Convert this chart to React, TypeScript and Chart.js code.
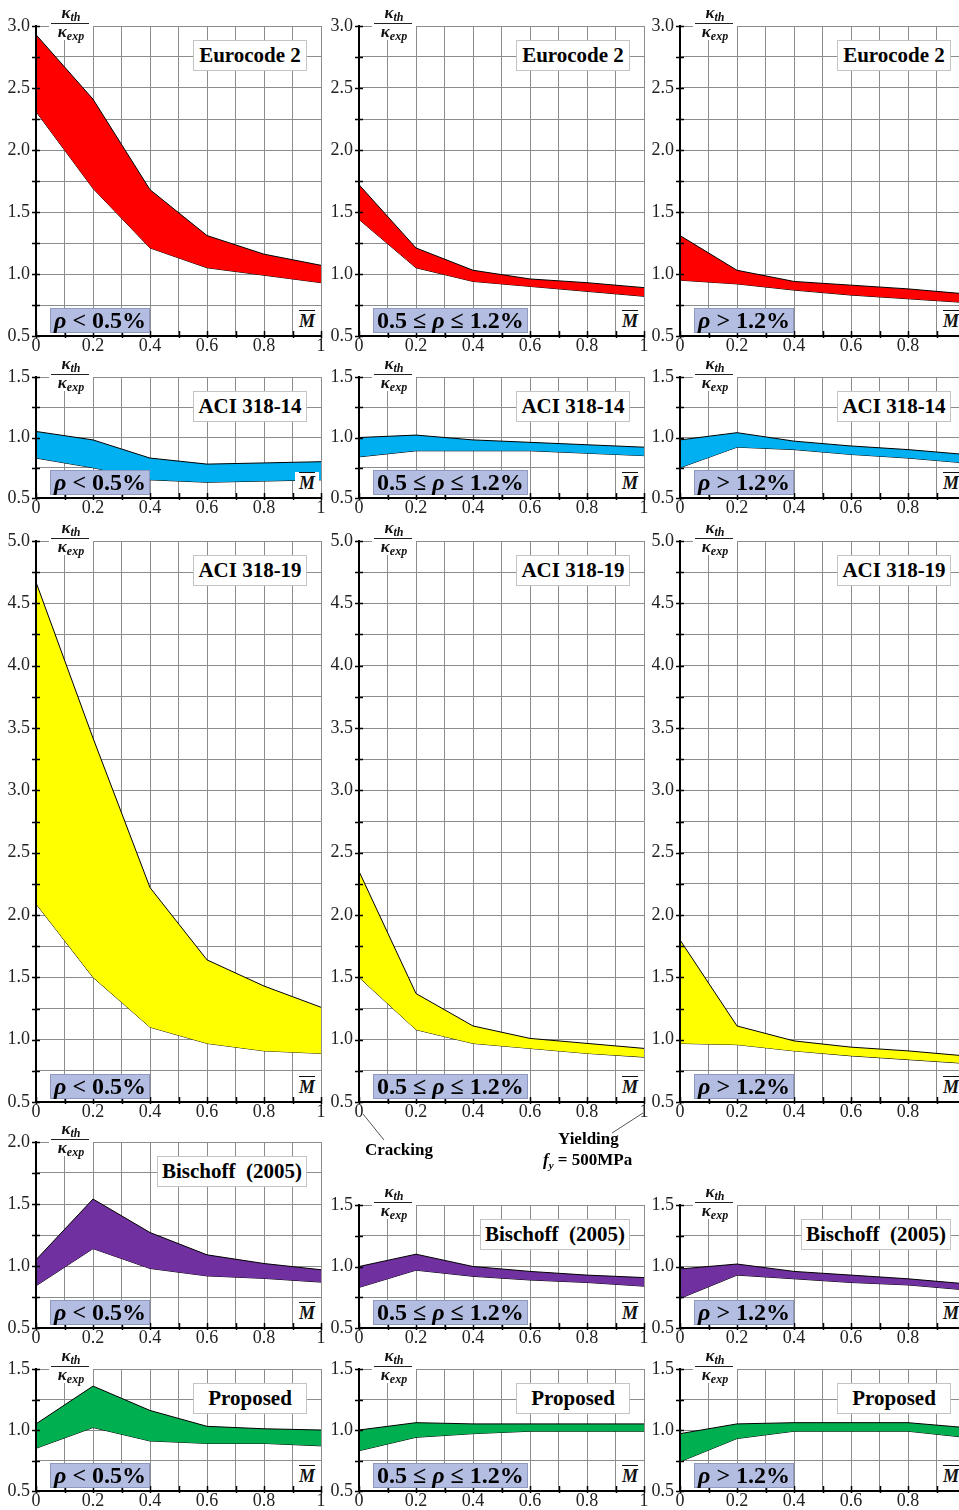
import React, { useEffect, useRef } from 'react';
import { Chart, registerables } from 'chart.js';

Chart.register(...registerables);

// ---------- data ----------
const M_POINTS = [0, 0.2, 0.4, 0.6, 0.8, 1.0];
const X_TICK_LABELS = ['0', '0.2', '0.4', '0.6', '0.8', '1'];
const RHO_LABELS = ['ρ < 0.5%', '0.5 ≤ ρ ≤ 1.2%', 'ρ > 1.2%'];
const TITLES = ['Eurocode 2', 'ACI 318-14', 'ACI 318-19', 'Bischoff  (2005)', 'Proposed'];

// Eurocode 2
const ec2UpperLow = [2.93, 2.41, 1.68, 1.31, 1.16, 1.07];
const ec2LowerLow = [2.31, 1.69, 1.21, 1.05, 0.99, 0.93];
const ec2UpperMid = [1.72, 1.21, 1.03, 0.96, 0.93, 0.89];
const ec2LowerMid = [1.44, 1.05, 0.94, 0.9, 0.86, 0.82];
const ec2UpperHigh = [1.31, 1.03, 0.94, 0.91, 0.88, 0.84];
const ec2LowerHigh = [0.95, 0.92, 0.87, 0.83, 0.8, 0.77];

// ACI 318-14
const aci14UpperLow = [1.05, 0.98, 0.83, 0.78, 0.79, 0.8];
const aci14LowerLow = [0.83, 0.75, 0.65, 0.63, 0.64, 0.65];
const aci14UpperMid = [1.0, 1.02, 0.98, 0.96, 0.94, 0.92];
const aci14LowerMid = [0.84, 0.89, 0.89, 0.89, 0.87, 0.85];
const aci14UpperHigh = [0.98, 1.04, 0.97, 0.93, 0.9, 0.86];
const aci14LowerHigh = [0.75, 0.92, 0.9, 0.86, 0.83, 0.79];

// ACI 318-19
const aci19UpperLow = [4.67, 3.42, 2.22, 1.64, 1.43, 1.26];
const aci19LowerLow = [2.09, 1.5, 1.1, 0.97, 0.91, 0.89];
const aci19UpperMid = [2.35, 1.37, 1.11, 1.01, 0.97, 0.93];
const aci19LowerMid = [1.5, 1.08, 0.97, 0.93, 0.89, 0.86];
const aci19UpperHigh = [1.8, 1.11, 0.99, 0.94, 0.91, 0.87];
const aci19LowerHigh = [0.97, 0.96, 0.91, 0.87, 0.84, 0.81];

// Bischoff (2005)
const bisUpperLow = [1.05, 1.54, 1.27, 1.09, 1.02, 0.97];
const bisLowerLow = [0.84, 1.14, 0.98, 0.92, 0.9, 0.87];
const bisUpperMid = [1.0, 1.1, 1.0, 0.96, 0.93, 0.91];
const bisLowerMid = [0.83, 0.97, 0.92, 0.89, 0.87, 0.84];
const bisUpperHigh = [0.98, 1.02, 0.96, 0.93, 0.9, 0.86];
const bisLowerHigh = [0.74, 0.93, 0.9, 0.87, 0.85, 0.81];

// Proposed
const propUpperLow = [1.05, 1.36, 1.16, 1.03, 1.01, 1.0];
const propLowerLow = [0.85, 1.02, 0.91, 0.89, 0.89, 0.87];
const propUpperMid = [1.0, 1.06, 1.05, 1.05, 1.05, 1.05];
const propLowerMid = [0.83, 0.94, 0.97, 0.99, 0.99, 0.99];
const propUpperHigh = [0.97, 1.05, 1.06, 1.06, 1.06, 1.02];
const propLowerHigh = [0.74, 0.93, 0.99, 0.99, 0.99, 0.94];

const Y_MIN = [0.5, 0.5, 0.5, 0.5, 0.5];
const Y_MAX = [
  [3.0, 3.0, 3.0],
  [1.5, 1.5, 1.5],
  [5.0, 5.0, 5.0],
  [2.0, 1.5, 1.5],
  [1.5, 1.5, 1.5],
];
const BAND_COLORS = ['#ff0000', '#00b0f0', '#ffff00', '#7030a0', '#00b050'];

// ---------- layout ----------
const SERIF = '"Liberation Serif", "Times New Roman", serif';
const COL_LEFT = [36, 359, 680];
const PLOT_W = 285;
const ROW_TOP = [
  [23, 23, 23],
  [374, 374, 374],
  [538, 538, 538],
  [1139, 1202, 1202],
  [1366, 1366, 1366],
];
const ROW_BOTTOM = [336, 498, 1102, 1328, 1491];
const PAD_L = 44;
const PAD_T = 12;
const PAD_R = 12;
const PAD_B = 24;
const GRID_COLOR = '#8c8c8c';

const UPPERS = [
  [ec2UpperLow, ec2UpperMid, ec2UpperHigh],
  [aci14UpperLow, aci14UpperMid, aci14UpperHigh],
  [aci19UpperLow, aci19UpperMid, aci19UpperHigh],
  [bisUpperLow, bisUpperMid, bisUpperHigh],
  [propUpperLow, propUpperMid, propUpperHigh],
];
const LOWERS = [
  [ec2LowerLow, ec2LowerMid, ec2LowerHigh],
  [aci14LowerLow, aci14LowerMid, aci14LowerHigh],
  [aci19LowerLow, aci19LowerMid, aci19LowerHigh],
  [bisLowerLow, bisLowerMid, bisLowerHigh],
  [propLowerLow, propLowerMid, propLowerHigh],
];

const axisPlugin = {
  id: 'blackAxes',
  afterDatasetsDraw(chart: any) {
    const { ctx, chartArea, scales } = chart;
    const { left, right, top, bottom } = chartArea;
    ctx.save();
    ctx.strokeStyle = '#000';
    ctx.lineWidth = 1.5;
    ctx.beginPath();
    scales.y.ticks.forEach((t: any) => {
      const py = Math.round(scales.y.getPixelForValue(t.value)) + 0.5;
      ctx.moveTo(left - 4, py);
      ctx.lineTo(left + 4, py);
    });
    scales.x.ticks.forEach((t: any) => {
      const px = Math.round(scales.x.getPixelForValue(t.value)) + 0.5;
      ctx.moveTo(px, bottom + 2);
      ctx.lineTo(px, bottom - 5);
    });
    ctx.stroke();
    ctx.lineWidth = 2;
    ctx.beginPath();
    ctx.moveTo(left, top - 1);
    ctx.lineTo(left, bottom);
    ctx.lineTo(right + 1, bottom);
    ctx.stroke();
    ctx.restore();
  },
};

function near(v: number, step: number) {
  return Math.abs(v / step - Math.round(v / step)) < 1e-6;
}

type PanelProps = { r: number; c: number };

function PanelChart({ r, c }: PanelProps) {
  const ref = useRef<HTMLCanvasElement>(null);
  const top = ROW_TOP[r][c];
  const bottom = ROW_BOTTOM[r];
  const h = bottom - top;
  const yMin = Y_MIN[r];
  const yMax = Y_MAX[r][c];
  const W = PLOT_W + PAD_L + PAD_R;
  const H = h + PAD_T + PAD_B;

  useEffect(() => {
    const upper = UPPERS[r][c];
    const lower = LOWERS[r][c];
    const xGrid: number[] = [];
    for (let i = 0; i <= 10; i++) xGrid.push(i / 10);
    const yGrid: number[] = [];
    for (let v = yMin; v <= yMax + 1e-9; v += 0.25) yGrid.push(Math.round(v * 100) / 100);
    const chart = new Chart(ref.current as HTMLCanvasElement, {
      type: 'line',
      data: {
        datasets: [
          {
            data: M_POINTS.map((x, i) => ({ x, y: upper[i] })),
            borderColor: '#000',
            borderWidth: 1,
            backgroundColor: BAND_COLORS[r],
            fill: '+1',
            pointRadius: 0,
            tension: 0,
          },
          {
            data: M_POINTS.map((x, i) => ({ x, y: lower[i] })),
            borderColor: '#000',
            borderWidth: 1,
            backgroundColor: BAND_COLORS[r],
            fill: false,
            pointRadius: 0,
            tension: 0,
          },
        ],
      },
      options: {
        responsive: false,
        maintainAspectRatio: false,
        animation: false,
        devicePixelRatio: 1,
        events: [],
        layout: { padding: { left: 0, top: PAD_T, right: PAD_R, bottom: 0 } },
        plugins: { legend: { display: false }, tooltip: { enabled: false }, title: { display: false } },
        scales: {
          x: {
            type: 'linear',
            min: 0,
            max: 1,
            afterFit: (s: any) => {
              s.height = PAD_B;
            },
            afterBuildTicks: (s: any) => {
              s.ticks = xGrid.map((v) => ({ value: v }));
            },
            ticks: {
              autoSkip: false,
              maxRotation: 0,
              padding: 1,
              color: '#222',
              font: { family: SERIF, size: 18, lineHeight: 1 },
              callback: (v: any) => (near(v, 0.2) ? X_TICK_LABELS[Math.round(v * 5)] : ''),
            },
            grid: { color: GRID_COLOR, lineWidth: 1, drawTicks: false },
            border: { display: false },
          },
          y: {
            type: 'linear',
            min: yMin,
            max: yMax,
            afterFit: (s: any) => {
              s.width = PAD_L;
            },
            afterBuildTicks: (s: any) => {
              s.ticks = yGrid.map((v) => ({ value: v }));
            },
            ticks: {
              autoSkip: false,
              padding: 6,
              color: '#222',
              font: { family: SERIF, size: 18, lineHeight: 1 },
              callback: (v: any) => (near(v, 0.5) ? Number(v).toFixed(1) : ''),
            },
            grid: { color: GRID_COLOR, lineWidth: 1, drawTicks: false },
            border: { display: false },
          },
        },
      } as any,
      plugins: [axisPlugin],
    });
    return () => chart.destroy();
  }, []);

  return (
    <canvas
      ref={ref}
      width={W}
      height={H}
      style={{ position: 'absolute', left: COL_LEFT[c] - PAD_L, top: top - PAD_T, width: W, height: H }}
    />
  );
}

function RhoText({ text }: { text: string }) {
  const parts = text.split('ρ');
  const out: any[] = [];
  parts.forEach((p, i) => {
    if (i > 0) out.push(<i key={'r' + i}>ρ</i>);
    out.push(<span key={'t' + i}>{p}</span>);
  });
  return <>{out}</>;
}

function PanelOverlay({ r, c }: PanelProps) {
  const top = ROW_TOP[r][c];
  const bottom = ROW_BOTTOM[r];
  const left = COL_LEFT[c];
  const right = left + PLOT_W;
  return (
    <>
      {/* y-axis fraction label */}
      <div
        style={{
          position: 'absolute',
          left: left + 13,
          top: top - 18,
          width: 44,
          height: 35,
          background: '#fff',
          fontFamily: SERIF,
          fontWeight: 'bold',
          fontStyle: 'italic',
          color: '#111',
        }}
      >
        <div style={{ position: 'absolute', left: 0, right: 0, top: 0, height: 17, textAlign: 'center', fontSize: 17, lineHeight: '16px', whiteSpace: 'nowrap' }}>
          κ<span style={{ fontSize: 12, position: 'relative', top: 3 }}>th</span>
        </div>
        <div style={{ position: 'absolute', left: 2, right: 4, top: 17.5, height: 1.4, background: '#222' }} />
        <div style={{ position: 'absolute', left: 0, right: 0, top: 19, height: 16, textAlign: 'center', fontSize: 17, lineHeight: '15px', whiteSpace: 'nowrap' }}>
          κ<span style={{ fontSize: 12, position: 'relative', top: 3 }}>exp</span>
        </div>
      </div>
      {/* title box */}
      <div
        style={{
          position: 'absolute',
          left: right - 14,
          top: top + 17,
          transform: 'translateX(-100%)',
          minWidth: 114,
          height: 31,
          boxSizing: 'border-box',
          border: '1px solid #c4c4c4',
          background: '#fff',
          fontFamily: SERIF,
          fontWeight: 'bold',
          fontSize: 21,
          lineHeight: '29px',
          textAlign: 'center',
          padding: '0 4px',
          whiteSpace: 'pre',
          color: '#000',
        }}
      >
        {TITLES[r]}
      </div>
      {/* rho box */}
      <div
        style={{
          position: 'absolute',
          left: left + 14,
          top: bottom - 28,
          height: 25,
          boxSizing: 'border-box',
          background: '#b3bde1',
          border: '1px solid #8d99c0',
          fontFamily: SERIF,
          fontWeight: 'bold',
          fontSize: 24,
          lineHeight: '23px',
          padding: '0 3px',
          whiteSpace: 'nowrap',
          color: '#000',
        }}
      >
        <RhoText text={RHO_LABELS[c]} />
      </div>
      {/* M-bar label */}
      <div
        style={{
          position: 'absolute',
          left: right - 26,
          top: bottom - 26,
          width: 24,
          height: 22,
          background: '#fff',
          fontFamily: SERIF,
          fontStyle: 'italic',
          fontWeight: 'bold',
          fontSize: 18,
          lineHeight: '23px',
          textAlign: 'center',
          color: '#111',
        }}
      >
        <span style={{ textDecoration: 'overline' }}>M</span>
      </div>
    </>
  );
}

export default function App() {
  const cells: PanelProps[] = [];
  for (let r = 0; r < 5; r++) for (let c = 0; c < 3; c++) cells.push({ r, c });
  return (
    <div
      style={{
        position: 'absolute',
        left: 0,
        top: 0,
        width: 959,
        height: 1510,
        overflow: 'hidden',
        background: '#fff',
      }}
    >
      {cells.map((p) => (
        <PanelChart key={'c' + p.r + p.c} r={p.r} c={p.c} />
      ))}
      {cells.map((p) => (
        <PanelOverlay key={'o' + p.r + p.c} r={p.r} c={p.c} />
      ))}
      <svg width={959} height={1510} style={{ position: 'absolute', left: 0, top: 0, pointerEvents: 'none' }}>
        <line x1={363} y1={1114} x2={384} y2={1140} stroke="#555" strokeWidth={1} />
        <line x1={643} y1={1113} x2={612} y2={1133} stroke="#555" strokeWidth={1} />
      </svg>
      <div style={{ position: 'absolute', left: 365, top: 1141, fontFamily: SERIF, fontWeight: 'bold', fontSize: 17, lineHeight: '17px' }}>
        Cracking
      </div>
      <div style={{ position: 'absolute', left: 558, top: 1130, fontFamily: SERIF, fontWeight: 'bold', fontSize: 17, lineHeight: '17px' }}>
        Yielding
      </div>
      <div style={{ position: 'absolute', left: 543, top: 1151, fontFamily: SERIF, fontWeight: 'bold', fontSize: 17, lineHeight: '17px', whiteSpace: 'nowrap' }}>
        <i>f</i>
        <i style={{ fontSize: 11, position: 'relative', top: 4 }}>y</i> = 500MPa
      </div>
    </div>
  );
}
